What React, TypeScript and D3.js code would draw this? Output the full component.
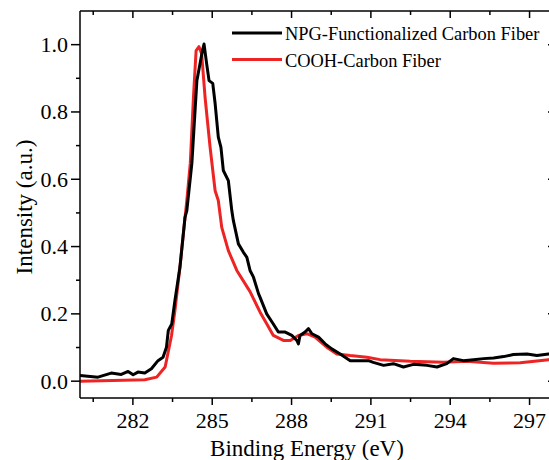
import * as d3 from "d3";

// binding energy (eV) / normalized intensity
const npgEnergy = [280.0, 280.68, 281.18, 281.56, 281.82, 282.01, 282.19, 282.45, 282.7, 282.95, 283.14, 283.27, 283.34, 283.47, 283.59, 283.78, 283.97, 284.04, 284.23, 284.42, 284.54, 284.63, 284.69, 284.79, 284.88, 285.02, 285.11, 285.23, 285.33, 285.42, 285.61, 285.74, 285.8, 285.99, 286.18, 286.31, 286.43, 286.56, 286.75, 286.81, 287.06, 287.31, 287.5, 287.76, 288.01, 288.2, 288.26, 288.32, 288.51, 288.64, 288.77, 289.02, 289.27, 289.52, 289.84, 290.22, 290.59, 290.91, 291.09, 291.48, 291.85, 292.23, 292.61, 293.12, 293.5, 293.87, 294.12, 294.5, 294.88, 295.26, 295.64, 296.02, 296.39, 296.9, 297.28, 297.72, 298.0];
const npgIntensity = [0.017, 0.012, 0.024, 0.02, 0.029, 0.019, 0.027, 0.024, 0.037, 0.061, 0.071, 0.101, 0.151, 0.17, 0.24, 0.339, 0.487, 0.507, 0.647, 0.893, 0.944, 0.982, 1.002, 0.943, 0.893, 0.885, 0.825, 0.725, 0.695, 0.626, 0.596, 0.507, 0.477, 0.408, 0.383, 0.368, 0.329, 0.309, 0.26, 0.249, 0.2, 0.17, 0.146, 0.146, 0.136, 0.121, 0.111, 0.136, 0.146, 0.156, 0.141, 0.131, 0.111, 0.096, 0.081, 0.061, 0.061, 0.061, 0.056, 0.047, 0.052, 0.042, 0.05, 0.047, 0.042, 0.052, 0.067, 0.061, 0.064, 0.067, 0.069, 0.073, 0.079, 0.081, 0.076, 0.081, 0.08];

const coohEnergy = [280.0, 282.45, 282.9, 283.22, 283.46, 283.59, 283.78, 283.91, 284.04, 284.17, 284.29, 284.39, 284.5, 284.6, 284.73, 284.92, 285.11, 285.23, 285.36, 285.61, 285.93, 286.43, 286.81, 287.06, 287.31, 287.69, 287.95, 288.26, 288.58, 288.89, 289.33, 289.71, 290.22, 290.85, 291.35, 292.49, 293.75, 294.63, 295.64, 296.65, 297.72, 298.0];
const coohIntensity = [0.0, 0.004, 0.012, 0.042, 0.135, 0.21, 0.339, 0.439, 0.537, 0.647, 0.843, 0.982, 0.994, 0.973, 0.843, 0.695, 0.566, 0.537, 0.457, 0.388, 0.329, 0.266, 0.205, 0.171, 0.136, 0.121, 0.121, 0.136, 0.141, 0.131, 0.101, 0.081, 0.076, 0.071, 0.064, 0.059, 0.056, 0.059, 0.053, 0.055, 0.064, 0.065];

const seriesNames = ["NPG-Functionalized Carbon Fiber", "COOH-Carbon Fiber"];
const seriesColors = ["#000000", "#ee2424"];

const xMajor = [282, 285, 288, 291, 294, 297];
const xMinor = [280.5, 283.5, 286.5, 289.5, 292.5, 295.5];
const yMajor = [0, 0.2, 0.4, 0.6, 0.8, 1.0];
const yMinor = [0.1, 0.3, 0.5, 0.7, 0.9];

const FONT = "Liberation Serif";

const width = 549,
  height = 460;
const left = 80,
  right = 556,
  top = 11,
  bottom = 398;

const App = () => {
  const x = d3.scaleLinear().domain([280, 298]).range([left, right]);
  const y = d3.scaleLinear().domain([-0.05, 1.1]).range([bottom, top]);

  const line = d3
    .line<[number, number]>()
    .x((d) => x(d[0]))
    .y((d) => y(d[1]));

  const series = [
    d3.zip(npgEnergy, npgIntensity) as [number, number][],
    d3.zip(coohEnergy, coohIntensity) as [number, number][],
  ];
  const fmt = d3.format(".1f");
  const axisStroke = { stroke: "#000", strokeWidth: 1.5 };

  return (
    <svg
      width={width}
      height={height}
      style={{ position: "absolute", left: 0, top: 0, background: "#fff" }}
    >
      <defs>
        <clipPath id="plotclip">
          <rect x={left} y={top} width={right - left} height={bottom - top} />
        </clipPath>
      </defs>

      {/* red under black */}
      {[1, 0].map((i) => (
        <path
          key={i}
          d={line(series[i]) || ""}
          clipPath="url(#plotclip)"
          fill="none"
          stroke={seriesColors[i]}
          strokeWidth={3}
          strokeLinejoin="round"
        />
      ))}

      {/* frame */}
      <line x1={left} x2={right} y1={bottom} y2={bottom} {...axisStroke} />
      <line x1={left} x2={right} y1={top} y2={top} {...axisStroke} />
      <line x1={left} x2={left} y1={top} y2={bottom} {...axisStroke} />
      <line x1={right} x2={right} y1={top} y2={bottom} {...axisStroke} />

      {/* x ticks */}
      {xMajor.map((v) => (
        <g key={"xM" + v}>
          <line x1={x(v)} x2={x(v)} y1={bottom} y2={bottom + 7} {...axisStroke} />
          <line x1={x(v)} x2={x(v)} y1={top} y2={top + 7} {...axisStroke} />
          <text x={x(v)} y={bottom + 30} textAnchor="middle" fontFamily={FONT} fontSize={22}>
            {v}
          </text>
        </g>
      ))}
      {xMinor.map((v) => (
        <g key={"xm" + v}>
          <line x1={x(v)} x2={x(v)} y1={bottom} y2={bottom + 4} {...axisStroke} />
          <line x1={x(v)} x2={x(v)} y1={top} y2={top + 4} {...axisStroke} />
        </g>
      ))}

      {/* y ticks */}
      {yMajor.map((v) => (
        <g key={"yM" + v}>
          <line x1={left - 9} x2={left} y1={y(v)} y2={y(v)} {...axisStroke} />
          <line x1={right - 8} x2={right} y1={y(v)} y2={y(v)} {...axisStroke} />
          <text x={left - 12} y={y(v) + 7.5} textAnchor="end" fontFamily={FONT} fontSize={22}>
            {fmt(v)}
          </text>
        </g>
      ))}
      {yMinor.map((v) => (
        <g key={"ym" + v}>
          <line x1={left - 4} x2={left} y1={y(v)} y2={y(v)} {...axisStroke} />
          <line x1={right - 4} x2={right} y1={y(v)} y2={y(v)} {...axisStroke} />
        </g>
      ))}

      {/* axis titles */}
      <text x={307} y={456} textAnchor="middle" fontFamily={FONT} fontSize={23}>
        Binding Energy (eV)
      </text>
      <text
        transform={`translate(32,207) rotate(-90)`}
        textAnchor="middle"
        fontFamily={FONT}
        fontSize={23}
      >
        Intensity (a.u.)
      </text>

      {/* legend */}
      {seriesNames.map((name, i) => {
        const ly = 33 + i * 26.5;
        return (
          <g key={name}>
            <line x1={232} x2={282} y1={ly} y2={ly} stroke={seriesColors[i]} strokeWidth={3} />
            <text x={285} y={ly + 7} fontFamily={FONT} fontSize={18.4}>
              {name}
            </text>
          </g>
        );
      })}
    </svg>
  );
};

export default App;
